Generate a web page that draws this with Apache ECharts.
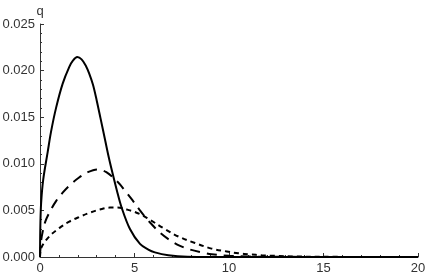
<!DOCTYPE html>
<html>
<head>
<meta charset="utf-8">
<script src="https://cdn.jsdelivr.net/npm/echarts@6/dist/echarts.min.js"></script>
<style>
  html, body { margin: 0; padding: 0; background: #fff; }
  #chart { width: 432px; height: 277px; }
</style>
</head>
<body>
<div id="chart"></div>
<script>
// values
var rSolid = [0, 0.02, 0.06, 0.17, 0.41, 0.58, 0.85, 1.2, 1.55, 1.75, 1.97, 2.2, 2.43, 2.6, 2.8, 3.0, 3.2, 3.45, 3.65, 3.85, 4.06, 4.32, 4.76, 5.29, 5.73, 6.08, 6.79, 7.8, 9, 20];
var qSolid = [0, 0.0035, 0.0058, 0.0083, 0.0113, 0.0134, 0.0160, 0.0186, 0.0204, 0.0211, 0.02145, 0.0212, 0.0205, 0.0197, 0.0185, 0.0168, 0.0149, 0.0125, 0.0106, 0.0089, 0.0072, 0.0053, 0.0030, 0.0014, 0.0008, 0.0005, 0.0002, 0.00003, 0, 0];

var rDashed = [0, 0.05, 0.14, 0.28, 0.53, 0.85, 1.2, 1.52, 2.05, 2.53, 3.05, 3.51, 4.14, 4.5, 4.85, 5.29, 5.56, 5.82, 6.35, 6.88, 7.41, 7.94, 8.56, 9.08, 10, 11, 12, 20];
var qDashed = [0, 0.0016, 0.0027, 0.0038, 0.0049, 0.0060, 0.0069, 0.0076, 0.0085, 0.0091, 0.0094, 0.0091, 0.0080, 0.0071, 0.0062, 0.0050, 0.0043, 0.0037, 0.0026, 0.0018, 0.0012, 0.0008, 0.0005, 0.0003, 0.00013, 0.00005, 0.00002, 0];

var rDotted = [0, 0.05, 0.49, 1.02, 1.55, 2.08, 2.7, 3.17, 3.7, 4.1, 4.76, 5.29, 5.73, 6.61, 7.32, 8.2, 9.08, 9.88, 10.49, 11.11, 11.73, 12.33, 13.5, 15, 20];
var qDotted = [0, 0.0009, 0.0022, 0.0031, 0.0038, 0.0043, 0.0048, 0.0051, 0.0053, 0.0053, 0.0050, 0.0046, 0.0041, 0.0030, 0.0022, 0.0015, 0.0009, 0.0006, 0.0004, 0.00028, 0.00019, 0.00013, 0.00006, 0.00002, 0];

var xTicks = { min: 0, max: 20, interval: 5 };
var yTicks = { min: 0, max: 0.025, interval: 0.005 };

function pairs(xs, ys) {
  return xs.map(function (x, i) { return [x, ys[i]]; });
}

var axisColor = "#333";
var labelFont = { color: "#333", fontSize: 13, fontFamily: "Liberation Sans, Arial, sans-serif" };

function curve(name, xs, ys, dash) {
  return {
    name: name,
    type: "line",
    data: pairs(xs, ys),
    smooth: 0.35,
    showSymbol: false,
    clip: true,
    lineStyle: { color: "#000", width: 2, type: dash }
  };
}

var chart = echarts.init(document.getElementById("chart"));
chart.setOption({
  animation: false,
  grid: { left: 40, right: 14, top: 24, bottom: 20, containLabel: false, outerBoundsMode: "none" },
  xAxis: {
    type: "value",
    min: xTicks.min,
    max: xTicks.max,
    interval: xTicks.interval,
    name: "r",
    nameLocation: "end",
    nameGap: 7,
    nameTextStyle: Object.assign({}, labelFont, { verticalAlign: "middle", padding: [0, 0, 6, 0] }),
    axisLine: { show: true, lineStyle: { color: axisColor, width: 1 } },
    axisTick: { show: true, inside: true, length: 4, lineStyle: { color: axisColor } },
    minorTick: { show: true, splitNumber: 5, length: 2, lineStyle: { color: axisColor } },
    axisLabel: Object.assign({ margin: 5 }, labelFont),
    splitLine: { show: false }
  },
  yAxis: {
    type: "value",
    min: yTicks.min,
    max: yTicks.max,
    interval: yTicks.interval,
    name: "q",
    nameLocation: "end",
    nameGap: 6,
    nameTextStyle: Object.assign({}, labelFont, { align: "center" }),
    axisLine: { show: true, lineStyle: { color: axisColor, width: 1 } },
    axisTick: { show: true, inside: true, length: 4, lineStyle: { color: axisColor } },
    minorTick: { show: true, splitNumber: 5, length: 2, lineStyle: { color: axisColor } },
    axisLabel: Object.assign({
      margin: 5,
      formatter: function (v) { return v.toFixed(3); }
    }, labelFont),
    splitLine: { show: false }
  },
  series: [
    curve("solid", rSolid, qSolid, "solid"),
    curve("dashed", rDashed, qDashed, [10, 7]),
    curve("dotted", rDotted, qDotted, [5, 4])
  ]
});
</script>
</body>
</html>
